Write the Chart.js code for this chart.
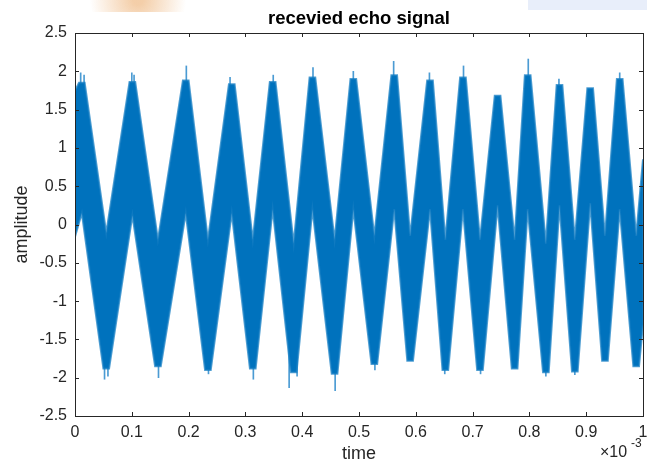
<!DOCTYPE html>
<html>
<head>
<meta charset="utf-8">
<script src="https://cdn.jsdelivr.net/npm/chart.js@4/dist/chart.umd.min.js"></script>
<style>
  html, body { margin: 0; padding: 0; background: #fff; }
  #wrap { width: 647px; height: 466px; }
</style>
</head>
<body>
<div id="wrap"><canvas id="echoChart" width="647" height="466"></canvas></div>
<script>
// ================= DATA =================
// time axis in units of 1e-3 s
// crests of the dense signal band
const peakTimes  = [0.012, 0.101, 0.195, 0.276, 0.348, 0.418, 0.490, 0.562, 0.625, 0.683, 0.744, 0.797, 0.853, 0.907, 0.959];
const peakTops   = [1.85, 1.86, 1.88, 1.83, 1.86, 1.92, 1.90, 1.95, 1.88, 1.92, 1.68, 1.95, 1.82, 1.78, 1.90];
const peakFloors = [0.15, 0.12, 0.15, 0.15, 0.20, 0.20, 0.20, 0.20, 0.20, 0.20, 0.25, 0.20, 0.25, 0.28, 0.20];
// troughs of the band
const troughTimes    = [0.055, 0.146, 0.234, 0.313, 0.385, 0.457, 0.527, 0.590, 0.652, 0.713, 0.774, 0.829, 0.880, 0.933, 0.988];
const troughBottoms  = [-1.88, -1.85, -1.90, -1.88, -1.93, -1.95, -1.82, -1.78, -1.90, -1.90, -1.88, -1.93, -1.92, -1.78, -1.85];
const troughCeilings = [-0.11, -0.20, -0.20, -0.20, -0.25, -0.20, -0.15, -0.15, -0.20, -0.20, -0.20, -0.25, -0.20, -0.15, -0.15];
// band edges at the two ends of the record
const startEdge = [1.74, -0.16];
const endEdge = [0.85, -1.30];
// single noise spikes that stick out of the band
const spikeTimes = [0.010, 0.016, 0.100, 0.104, 0.196, 0.273, 0.349, 0.419, 0.490, 0.561, 0.624, 0.684,
  0.798, 0.852, 0.959, 0.052, 0.058, 0.147, 0.235, 0.314, 0.377, 0.391, 0.458, 0.528, 0.651, 0.714, 0.829, 0.880];
const spikeTips  = [1.98, 1.95, 1.98, 1.95, 2.07, 1.92, 1.95, 2.05, 2.00, 2.13, 1.98, 2.07,
  2.16, 1.90, 1.98, -2.02, -1.98, -2.00, -1.95, -2.02, -2.13, -1.98, -2.17, -1.90, -1.95, -1.95, -1.98, -1.96];

const xTicks = [0, 0.1, 0.2, 0.3, 0.4, 0.5, 0.6, 0.7, 0.8, 0.9, 1];
const yTicks = [-2.5, -2, -1.5, -1, -0.5, 0, 0.5, 1, 1.5, 2, 2.5];

const PEAK_FLAT = 0.005;   // half width of the flat crest, in 1e-3 s
const BLUE = "#0072BD";
const AXIS = "#262626";
const FONT = "'Liberation Sans', Arial, sans-serif";

// ================= FORMAT =================
function tickText(v) {
  return String(Math.round(v * 10) / 10);
}

// ================= BAND OUTLINE =================
// upper edge left -> right, then lower edge right -> left (closed shape)
function buildBand() {
  const up = [{ x: 0, y: startEdge[0] }];
  const low = [{ x: 0, y: startEdge[1] }];
  const n = Math.max(peakTimes.length, troughTimes.length);
  for (let i = 0; i < n; i++) {
    if (i < peakTimes.length) {
      up.push({ x: peakTimes[i] - PEAK_FLAT, y: peakTops[i] });
      up.push({ x: peakTimes[i] + PEAK_FLAT, y: peakTops[i] });
      low.push({ x: peakTimes[i], y: peakFloors[i] });
    }
    if (i < troughTimes.length) {
      up.push({ x: troughTimes[i], y: troughCeilings[i] });
      low.push({ x: troughTimes[i] - PEAK_FLAT, y: troughBottoms[i] });
      low.push({ x: troughTimes[i] + PEAK_FLAT, y: troughBottoms[i] });
    }
  }
  up.push({ x: 1, y: endEdge[0] });
  low.push({ x: 1, y: endEdge[1] });
  return up.concat(low.reverse());
}

const spikeBars = spikeTimes.map((t, i) => ({
  x: t,
  y: spikeTips[i] > 0 ? [1.0, spikeTips[i]] : [spikeTips[i], -1.0]
}));

// ================= FRAME PLUGIN =================
const matlabFrame = {
  id: "matlabFrame",
  beforeDraw(chart) {
    const ctx = chart.ctx;
    ctx.save();
    // faint scan artefacts along the top edge
    ctx.fillStyle = "#e8eefa";
    ctx.fillRect(528, 0, 119, 10);
    const g = ctx.createRadialGradient(138, 0, 5, 138, 0, 48);
    g.addColorStop(0, "rgba(240,190,140,0.75)");
    g.addColorStop(1, "rgba(240,190,140,0)");
    ctx.fillStyle = g;
    ctx.fillRect(88, 0, 100, 12);
    ctx.restore();
  },
  afterDraw(chart) {
    const { ctx, chartArea: a, scales } = chart;
    ctx.save();
    ctx.strokeStyle = AXIS;
    ctx.lineWidth = 1;
    ctx.strokeRect(a.left + 0.5, a.top + 0.5, a.right - a.left, a.bottom - a.top);
    const tl = 4;
    ctx.beginPath();
    xTicks.forEach(v => {
      const px = Math.round(scales.x.getPixelForValue(v)) + 0.5;
      ctx.moveTo(px, a.bottom); ctx.lineTo(px, a.bottom - tl);
      ctx.moveTo(px, a.top); ctx.lineTo(px, a.top + tl);
    });
    yTicks.forEach(v => {
      const py = Math.round(scales.y.getPixelForValue(v)) + 0.5;
      ctx.moveTo(a.left, py); ctx.lineTo(a.left + tl, py);
      ctx.moveTo(a.right, py); ctx.lineTo(a.right - tl, py);
    });
    ctx.stroke();

    // texts
    ctx.fillStyle = "#000";
    ctx.textAlign = "center";
    ctx.textBaseline = "alphabetic";
    ctx.font = "bold 18.5px " + FONT;
    ctx.fillText("recevied echo signal", (a.left + a.right) / 2, 24);

    ctx.fillStyle = AXIS;
    ctx.font = "18px " + FONT;
    ctx.fillText("time", (a.left + a.right) / 2, 459);

    ctx.save();
    ctx.translate(27, (a.top + a.bottom) / 2);
    ctx.rotate(-Math.PI / 2);
    ctx.fillText("amplitude", 0, 0);
    ctx.restore();

    ctx.textAlign = "left";
    ctx.font = "16px " + FONT;
    ctx.fillText("\u00d710", 600, 457);
    ctx.font = "12px " + FONT;
    ctx.fillText("-3", 631, 447);
    ctx.restore();
  }
};

// ================= CHART =================
new Chart(document.getElementById("echoChart"), {
  type: "line",
  data: {
    datasets: [
      {
        label: "received signal",
        data: buildBand(),
        borderColor: "rgba(20,125,195,0.75)",
        borderWidth: 2,
        backgroundColor: BLUE,
        fill: "shape",
        pointRadius: 0,
        tension: 0
      },
      {
        type: "bar",
        label: "spikes",
        data: spikeBars,
        backgroundColor: "rgba(30,130,200,0.8)",
        barThickness: 1,
        borderWidth: 0
      }
    ]
  },
  options: {
    responsive: false,
    animation: false,
    layout: { padding: { left: 0, right: 4, top: 33, bottom: 0 } },
    plugins: {
      legend: { display: false },
      title: { display: false },
      tooltip: { enabled: false }
    },
    scales: {
      x: {
        type: "linear",
        min: 0,
        max: 1,
        offset: false,
        afterBuildTicks: s => { s.ticks = xTicks.map(v => ({ value: v })); },
        afterFit: s => { s.height = 50; s.paddingLeft = 0; s.paddingRight = 0; },
        grid: { display: false, drawTicks: false },
        border: { display: false },
        ticks: {
          color: AXIS,
          padding: 7,
          maxRotation: 0,
          autoSkip: false,
          font: { family: FONT, size: 16 },
          callback: v => tickText(v)
        }
      },
      y: {
        type: "linear",
        min: -2.5,
        max: 2.5,
        afterBuildTicks: s => { s.ticks = yTicks.map(v => ({ value: v })); },
        afterFit: s => { s.width = 75; s.paddingTop = 0; s.paddingBottom = 0; },
        grid: { display: false, drawTicks: false },
        border: { display: false },
        ticks: {
          color: AXIS,
          padding: 8,
          autoSkip: false,
          font: { family: FONT, size: 16 },
          callback: v => tickText(v)
        }
      }
    }
  },
  plugins: [matlabFrame]
});
</script>
</body>
</html>
